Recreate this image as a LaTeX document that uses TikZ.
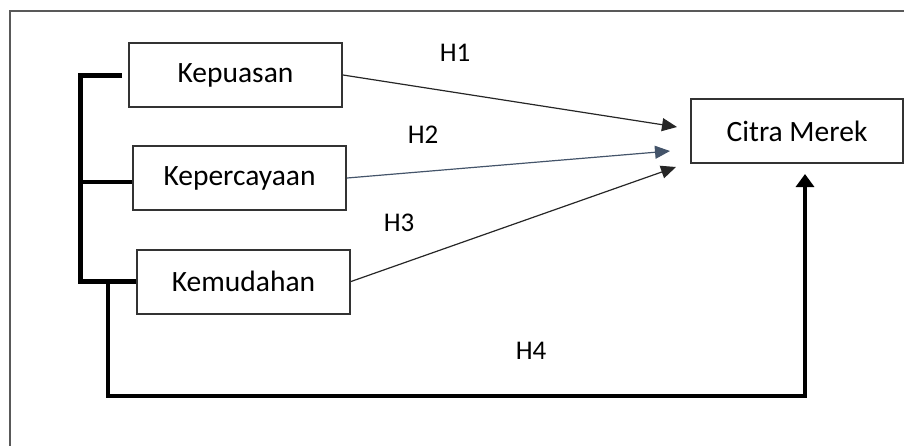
\documentclass[tikz,border=0pt]{standalone}
\usepackage{fontspec}
\setmainfont{Carlito}
\usetikzlibrary{arrows.meta}
\definecolor{arrowblue}{HTML}{44546A}

\begin{document}
\begin{tikzpicture}[x=1pt,y=-1pt, >={Triangle[length=15pt,width=13pt]}]
				\tikzstyle{var}=[draw=black!80,line width=2pt,minimum width=213pt,minimum height=64pt,inner sep=0pt,font=\fontsize{29.5}{35}\selectfont]
				\tikzstyle{hyp}=[font=\fontsize{27}{32}\selectfont]
				\tikzstyle{path arrow}=[->,line width=1.2pt]
				\tikzstyle{bracket}=[line width=5pt]
				\tikzstyle{frame}=[draw=black!65,line width=2pt]
				
				% Fix the picture size and draw the outer frame
				\useasboundingbox (0,0) rectangle (904,445);
				\draw[frame] (10,11) rectangle (930,470);
				
				% Draw the independent variables
				\foreach \name / \x / \y / \txt in {1/235.5/75/Kepuasan,2/239.5/178/Kepercayaan,3/243.5/281.5/Kemudahan}
				\node[var] (X-\name) at (\x,\y) {\txt};
				
				% Draw the dependent variable
				\node[var,minimum width=212pt] (Y) at (797,131) {Citra Merek};
				
				% Connect the variables (H1 - H3)
				\foreach \source / \dx / \dy / \col in {1/-13/4/black!85,2/-20/-20/arrowblue,3/-14/-36/black!85}
				\draw[path arrow,draw=\col] (X-\source.east) -- ([xshift=\dx pt,yshift=\dy pt]Y.west);
				
				% Bracket joining the three variables
				\coordinate (B-top) at (80,75);
				\draw[bracket] ([xshift=-6pt]X-1.west) -- (B-top) |- (X-3.west);
				\draw[bracket,line width=4pt] ([yshift=-4pt]B-top |- X-2.west) -- ([yshift=-4pt]X-2.west);
				
				% Joint path (H4)
				\coordinate (J) at (108,281.5);
				\draw[line width=4pt,-{Triangle[length=13pt,width=18pt]}] (J) -- ++(0,114) -| ([xshift=8pt,yshift=-10pt]Y.south);
				
				% Annotate the hypotheses
				\node[hyp] (h1) at (455,53) {H1};
				\node[hyp] (h2) at (423,135) {H2};
				\node[hyp] (h3) at (399,223) {H3};
				\node[hyp] (h4) at (531,351) {H4};
				
\end{tikzpicture}
\end{document}
